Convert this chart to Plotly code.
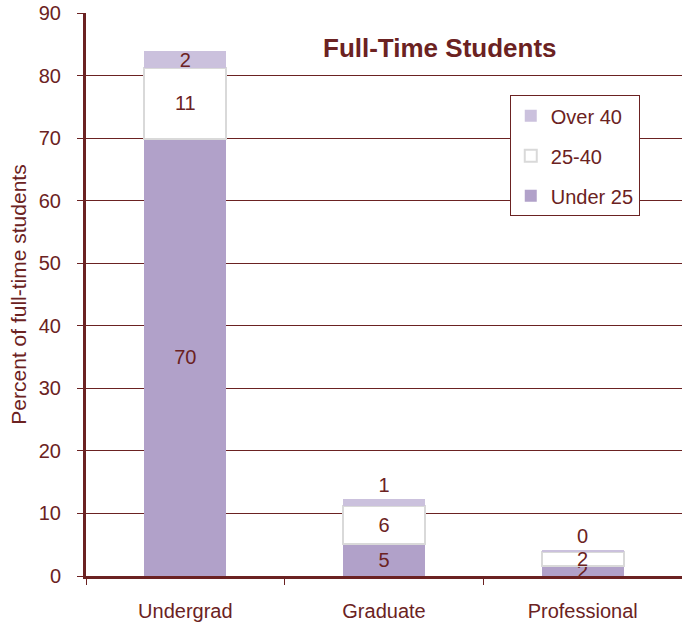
import plotly.graph_objects as go

categories = ["Undergrad", "Graduate", "Professional"]
under_25 = [69.9, 5.1, 1.6]
age_25_40 = [11.3, 6.1, 2.3]
over_40 = [2.7, 1.1, 0.3]
under_25_labels = ["70", "5", "2"]
age_25_40_labels = ["11", "6", "2"]
over_40_labels = ["2", "1", "0"]

maroon = "#6B2222"
font = "Liberation Sans, Arial, sans-serif"
txt = dict(size=20, color=maroon)

fig = go.Figure()

fig.add_trace(go.Bar(
    x=categories, y=under_25, name="Under 25", legendgroup="a", legendrank=3,
    text=under_25_labels, textposition="inside", insidetextanchor="middle",
    textangle=0, constraintext="none", textfont=txt, cliponaxis=False,
    marker=dict(color="#B1A1C9", line=dict(width=0)),
))
fig.add_trace(go.Bar(
    x=categories, y=age_25_40, name="25-40", legendgroup="b", legendrank=2,
    text=age_25_40_labels, textposition="inside", insidetextanchor="middle",
    textangle=0, constraintext="none", textfont=txt, cliponaxis=False,
    marker=dict(color="#FFFFFF", line=dict(width=2, color="#D9D9D9")),
))
fig.add_trace(go.Bar(
    x=categories, y=over_40, name="Over 40", legendgroup="c", legendrank=1,
    text=over_40_labels, textposition=["inside", "outside", "outside"],
    insidetextanchor="middle", cliponaxis=False,
    textangle=0, constraintext="none", textfont=txt,
    marker=dict(color="#CBC1DD", line=dict(width=0)),
))

fig.update_layout(
    width=682, height=623,
    margin=dict(l=86, r=0, t=13, b=47, autoexpand=False),
    barmode="stack", bargap=0.587,
    plot_bgcolor="white", paper_bgcolor="white",
    font=dict(family=font, color=maroon, size=20),
    legend=dict(
        x=0.711, y=0.854, xanchor="left", yanchor="top",
        traceorder="grouped", tracegroupgap=11,
        bordercolor=maroon, borderwidth=1, bgcolor="white",
        font=txt, itemwidth=30,
    ),
    annotations=[dict(
        text="<b>Full-Time Students</b>", x=0.594, y=0.938,
        xref="paper", yref="paper", xanchor="center", yanchor="middle",
        showarrow=False, font=dict(size=26, color=maroon, family=font),
    )],
)

fig.update_yaxes(
    range=[0, 90], dtick=10, showgrid=True, gridcolor=maroon, gridwidth=1,
    showline=True, linecolor=maroon, linewidth=3, automargin=False,
    ticks="outside", ticklen=6, tickcolor=maroon, ticklabelstandoff=12,
    tickfont=txt,
    title=dict(text="Percent of full-time students", font=dict(size=21, color=maroon), standoff=7),
    zeroline=False,
)
fig.update_xaxes(
    showline=True, linecolor=maroon, linewidth=3, automargin=False,
    ticks="outside", ticklen=6, tickcolor=maroon, tickson="boundaries",
    tickfont=txt, ticklabelstandoff=15,
)

# drop the default page margin so the figure sits at the window's corner
fig.write_html("out.html", config={"displayModeBar": False},
               post_script="document.body.style.margin='0';")
